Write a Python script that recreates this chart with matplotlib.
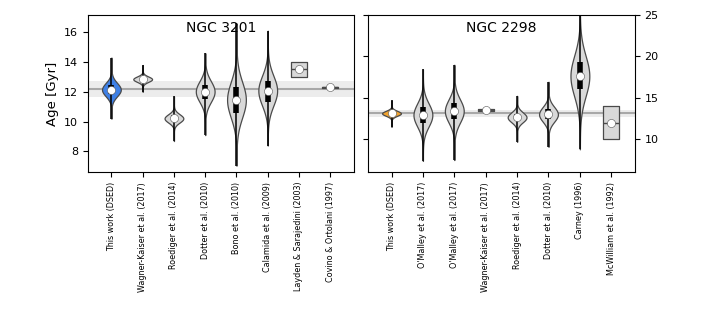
"""
age comparison violins for NGC 3201 and NGC 2298
"""
import numpy as np
import matplotlib
matplotlib.use('Agg')
import matplotlib.pyplot as plt

# NGC 3201
labels3201 = ['This work (DSED)', 'Wagner-Kaiser et al. (2017)', 'Roediger et al. (2014)',
              'Dotter et al. (2010)', 'Bono et al. (2010)', 'Calamida et al. (2009)',
              'Layden & Sarajedini (2003)', 'Covino & Ortolani (1997)']
kind3201 = ['g', 'g', 'g', 'g', 'g', 'g', 'u', 'u']
med3201 = [12.15, 12.85, 10.22, 12.02, 11.47, 12.08, 13.5, 12.3]
sig3201 = [0.45, 0.18, 0.28, 0.7, 1.2, 1.0, 0, 0]
lo3201 = [10.2, 12.0, 8.7, 9.1, 7.05, 8.4, 13.0, 12.26]
hi3201 = [14.3, 13.8, 11.7, 14.6, 16.6, 16.1, 14.0, 12.34]
q1_3201 = [11.85, 12.72, 10.05, 11.5, 10.6, 11.35, 0, 0]
q3_3201 = [12.45, 13.0, 10.42, 12.47, 12.3, 12.7, 0, 0]
age3201, lo_band3201, hi_band3201 = 12.18, 11.65, 12.72

# NGC 2298
labels2298 = ['This work (DSED)', "O'Malley et al. (2017)", "O'Malley et al. (2017)",
              'Wagner-Kaiser et al. (2017)', 'Roediger et al. (2014)', 'Dotter et al. (2010)',
              'Carney (1996)', 'McWilliam et al. (1992)']
kind2298 = ['g', 'g', 'g', 'u', 'g', 'g', 'g', 'u']
med2298 = [13.14, 12.94, 13.42, 13.54, 12.66, 13.02, 17.64, 12.0]
sig2298 = [0.3, 1.4, 1.4, 0, 0.6, 0.9, 2.45, 0]
lo2298 = [11.5, 7.4, 7.5, 13.47, 9.7, 9.1, 8.8, 10.0]
hi2298 = [14.7, 18.45, 19.0, 13.61, 15.25, 16.95, 26.0, 14.0]
q1_2298 = [12.95, 11.94, 12.42, 0, 12.35, 12.42, 16.04, 0]
q3_2298 = [13.35, 13.87, 14.35, 0, 13.0, 13.66, 19.37, 0]
age2298, lo_band2298, hi_band2298 = 13.14, 12.75, 13.55


def draw(ax, labels, kind, med, sig, lo, hi, q1, q3, first_color):
    pos = np.arange(len(labels))
    stats = []
    for i in range(len(labels)):
        yy = np.linspace(lo[i], hi[i], 300)
        if kind[i] == 'u':
            dens = np.ones_like(yy)
        else:
            dens = np.exp(-0.5 * ((yy - med[i]) / sig[i]) ** 2)
        stats.append(dict(coords=yy, vals=dens, mean=med[i], median=med[i],
                          min=lo[i], max=hi[i]))
    w = [0.6 if k == 'g' else 0.52 for k in kind]
    parts = ax.violin(stats, positions=pos, widths=w, showextrema=False)
    for i, b in enumerate(parts['bodies']):
        b.set_facecolor(first_color if i == 0 else '#d9d9d9')
        b.set_edgecolor('#4a4a4a')
        b.set_linewidth(0.9)
        b.set_alpha(1)
        b.set_zorder(2)
    for i in range(len(labels)):
        if kind[i] == 'u':
            ax.hlines(med[i], pos[i] - 0.26, pos[i] + 0.26, color='#4a4a4a', lw=1, zorder=3)
        else:
            ax.vlines(pos[i], lo[i], hi[i], color='k', lw=1.1, zorder=3)
            ax.vlines(pos[i], q1[i], q3[i], color='k', lw=4, zorder=3)
    ax.scatter(pos, med, s=34, c='white', edgecolors='#555555', linewidths=0.4, zorder=4)
    ax.set_xticks(pos)
    ax.set_xticklabels(labels, rotation=90, fontsize=5.8)
    ax.set_xlim(-0.75, 7.75)


fig = plt.figure(figsize=(7.06, 3.14), dpi=100)
ax1 = fig.add_axes([0.1246, 0.452, 0.3764, 0.5])
ax2 = fig.add_axes([0.5212, 0.452, 0.378, 0.5])

for ax, age, blo, bhi in [(ax1, age3201, lo_band3201, hi_band3201),
                          (ax2, age2298, lo_band2298, hi_band2298)]:
    ax.axhspan(blo, bhi, color='#ececec', zorder=0, lw=0)
    ax.axhline(age, color='#a8a8a8', lw=1.5, zorder=1)

draw(ax1, labels3201, kind3201, med3201, sig3201, lo3201, hi3201, q1_3201, q3_3201, '#3e80e6')
draw(ax2, labels2298, kind2298, med2298, sig2298, lo2298, hi2298, q1_2298, q3_2298, '#f0a22e')

ax1.set_ylim(6.62, 17.15)
ax1.set_yticks([8, 10, 12, 14, 16])
ax1.set_ylabel('Age [Gyr]', fontsize=9.5)
ax1.tick_params(axis='y', labelsize=8)
ax1.text(0.5, 0.915, 'NGC 3201', transform=ax1.transAxes, ha='center', va='center', fontsize=10)

ax2.set_ylim(6.05, 25)
ax2.set_yticks([10, 15, 20, 25])
ax2.tick_params(axis='y', left=True, right=True, labelleft=False, labelright=True, labelsize=8)
ax2.text(0.5, 0.915, 'NGC 2298', transform=ax2.transAxes, ha='center', va='center', fontsize=10)

fig.savefig('out.png', dpi=100)
